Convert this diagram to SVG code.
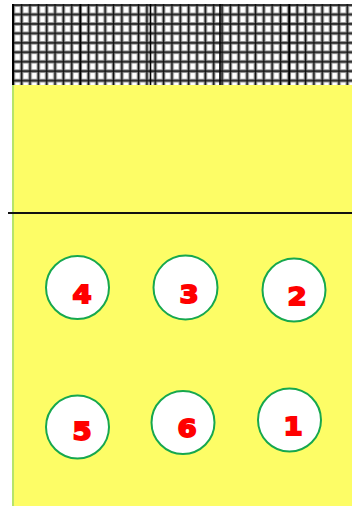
<svg xmlns="http://www.w3.org/2000/svg" width="352" height="506" viewBox="0 0 352 506">
<defs>
<pattern id="net" x="9.1" y="0.3" width="8.35" height="9.45" patternUnits="userSpaceOnUse">
<rect width="8.35" height="9.45" fill="#ffffff"/>
<path d="M4.2 0V9.45M0 4.7H8.35" stroke="#9a9a9a" stroke-width="3.6" fill="none"/>
<path d="M4.2 0V9.45M0 4.7H8.35" stroke="#101010" stroke-width="1.5" fill="none"/>
</pattern>
<style>
.pos circle{fill:#ffffff;stroke:#16a84e;stroke-width:2}
.pos text{font-family:"DejaVu Sans",sans-serif;font-weight:bold;font-size:25px;fill:#ff0000;stroke:#ff0000;stroke-width:1.8;text-anchor:middle}
</style>
</defs>
<rect width="352" height="506" fill="#ffffff"/>
<g id="net-area">
<rect x="12" y="4" width="340" height="81" fill="url(#net)"/>
<path d="M80.5 4V85M150.5 4V85M220 4V85M289.5 4V85" stroke="#000" stroke-width="1.6"/>
<line x1="13" y1="4" x2="13" y2="85" stroke="#000" stroke-width="2"/>
</g>
<g id="court">
<rect x="12" y="85" width="340" height="421" fill="#fdfd66"/>
<line x1="13" y1="85" x2="13" y2="506" stroke="#b6e46a" stroke-width="2"/>
</g>
<g id="connectors">
<line x1="8" y1="213" x2="352" y2="213" stroke="#111" stroke-width="2"/>
</g>
<g id="p4" class="pos"><circle cx="77.5" cy="287.5" r="31.5"/><text transform="translate(82 303) scale(1.1 1)">4</text></g>
<g id="p3" class="pos"><circle cx="185.5" cy="287.5" r="32"/><text transform="translate(189 303) scale(1.1 1)">3</text></g>
<g id="p2" class="pos"><circle cx="294" cy="290" r="31.5"/><text transform="translate(297 305) scale(1.1 1)">2</text></g>
<g id="p5" class="pos"><circle cx="77.5" cy="427" r="31.5"/><text transform="translate(82 440) scale(1.1 1)">5</text></g>
<g id="p6" class="pos"><circle cx="183" cy="422.5" r="31.5"/><text transform="translate(187 437) scale(1.1 1)">6</text></g>
<g id="p1" class="pos"><circle cx="289.5" cy="420" r="31.5"/><text transform="translate(293 435) scale(1.1 1)">1</text></g>
</svg>
